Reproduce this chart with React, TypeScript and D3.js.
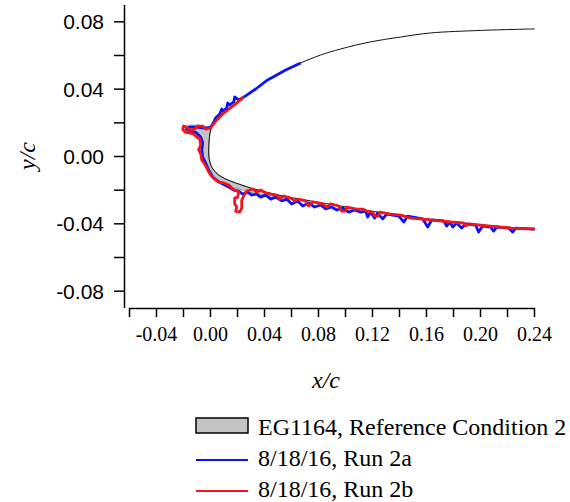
import { useEffect, useRef } from "react";
import * as d3 from "d3";

type Pt = [number, number];

// clean airfoil, nose -> trailing edge of the window
const airfoilUpper: Pt[] = [
  [-0.00096, 0.0036], [-0.0006, 0.0095], [0.0005, 0.0155], [0.0042, 0.0214],
  [0.0116, 0.0262], [0.019, 0.0309], [0.025, 0.0345], [0.0339, 0.0398],
  [0.0427, 0.0452], [0.0561, 0.0511], [0.0672, 0.0553], [0.082, 0.06],
  [0.0968, 0.0636], [0.119, 0.0678], [0.1413, 0.0707], [0.1635, 0.0731],
  [0.2005, 0.0746], [0.2405, 0.0755],
];
const airfoilLower: Pt[] = [
  [-0.00096, 0.0036], [-0.0007, -0.0012], [0.0005, -0.0053], [0.0027, -0.0083],
  [0.0064, -0.0113], [0.0116, -0.0137], [0.019, -0.016], [0.0301, -0.019],
  [0.0413, -0.0214], [0.0561, -0.0241], [0.0746, -0.0267], [0.0968, -0.0297],
  [0.119, -0.0327], [0.1413, -0.0354], [0.1635, -0.0377], [0.1857, -0.0398],
  [0.2153, -0.0419], [0.2405, -0.0434],
];

// EG1164 reference ice, outer edge (upper -> lower)
const iceOuter: Pt[] = [
  [0.0013, 0.0166], [-0.0032, 0.0172], [-0.0084, 0.0184], [-0.0143, 0.0184],
  [-0.0187, 0.0172], [-0.018, 0.0149], [-0.0128, 0.0137], [-0.0076, 0.0125],
  [-0.0054, 0.0095], [-0.0054, 0.0048], [-0.0061, 0.0], [-0.0039, -0.0042],
  [-0.001, -0.0089], [0.0027, -0.0131], [0.0072, -0.016], [0.0131, -0.0178],
  [0.0213, -0.0196], [0.0316, -0.022], [0.0435, -0.0238], [0.0561, -0.0244],
];

// 8/18/16 Run 2a
const run2a: Pt[] = [
  [0.0672, 0.0553], [0.0561, 0.0511], [0.0427, 0.0452], [0.0339, 0.0398],
  [0.0264, 0.0357], [0.0213, 0.0333], [0.0183, 0.0351], [0.0176, 0.0321],
  [0.0146, 0.0303], [0.0131, 0.0315], [0.0124, 0.0285], [0.0094, 0.0267],
  [0.0087, 0.0279], [0.0072, 0.025], [0.0042, 0.0226], [0.002, 0.019],
  [0.0005, 0.0172], [-0.0039, 0.0166], [-0.0099, 0.0172], [-0.015, 0.0172],
  [-0.0173, 0.016], [-0.0143, 0.0149], [-0.0099, 0.0137], [-0.0069, 0.0113],
  [-0.0054, 0.0077], [-0.0061, 0.0036], [-0.0054, -0.0006], [-0.0032, -0.0042],
  [-0.001, -0.0083], [0.002, -0.0125], [0.0057, -0.0149], [0.0094, -0.0166],
  [0.0139, -0.0184], [0.0176, -0.0202], [0.0213, -0.0208], [0.0242, -0.0226],
  [0.0279, -0.0214], [0.0309, -0.0232], [0.0346, -0.0226], [0.0375, -0.0244],
  [0.0413, -0.0232], [0.045, -0.0256], [0.0487, -0.0244], [0.0531, -0.0267],
  [0.0568, -0.0256], [0.0605, -0.0285], [0.065, -0.0267], [0.0687, -0.0297],
  [0.0731, -0.0279], [0.0775, -0.0303], [0.082, -0.0291], [0.0857, -0.0315],
  [0.0901, -0.0303], [0.0939, -0.0321], [0.0983, -0.0309], [0.1027, -0.0333],
  [0.1072, -0.0321], [0.1116, -0.0333], [0.1153, -0.0327], [0.1168, -0.0363],
  [0.119, -0.0333], [0.122, -0.0369], [0.1242, -0.0339], [0.1279, -0.0374],
  [0.1309, -0.0345], [0.1398, -0.0357], [0.1436, -0.0392], [0.1464, -0.0357],
  [0.1576, -0.0374], [0.1613, -0.0422], [0.1642, -0.038], [0.1731, -0.0386],
  [0.1753, -0.0416], [0.1776, -0.0392], [0.1798, -0.0422], [0.1827, -0.0398],
  [0.1864, -0.0428], [0.1894, -0.0404], [0.1968, -0.041], [0.199, -0.0452],
  [0.202, -0.0416], [0.2079, -0.0422], [0.2101, -0.0446], [0.2124, -0.0422],
  [0.2213, -0.0428], [0.2242, -0.0452], [0.2264, -0.0428], [0.2405, -0.0434],
];

// 8/18/16 Run 2b
const run2b: Pt[] = [
  [0.025, 0.0351], [0.019, 0.0309], [0.0139, 0.0279], [0.0094, 0.025],
  [0.005, 0.0214], [0.002, 0.0184], [0.0005, 0.0166], [-0.0032, 0.016],
  [-0.0054, 0.0178], [-0.0091, 0.0178], [-0.0113, 0.016], [-0.015, 0.0155],
  [-0.0173, 0.0172], [-0.0195, 0.0178], [-0.0202, 0.016], [-0.0187, 0.0143],
  [-0.0158, 0.0137], [-0.0121, 0.0131], [-0.0099, 0.0113], [-0.0076, 0.0101],
  [-0.0069, 0.0065], [-0.0084, 0.0036], [-0.0069, 0.0012], [-0.0061, -0.0024],
  [-0.0039, -0.0048], [-0.0017, -0.0083], [0.0005, -0.0113], [0.0035, -0.0137],
  [0.0064, -0.0155], [0.0101, -0.016], [0.0139, -0.0172], [0.0168, -0.0196],
  [0.0213, -0.0214], [0.0205, -0.0244], [0.0183, -0.025], [0.0183, -0.0285],
  [0.0198, -0.0303], [0.019, -0.0327], [0.022, -0.0333], [0.0235, -0.0309],
  [0.0235, -0.0262], [0.025, -0.0238], [0.0273, -0.0208], [0.0316, -0.0196],
  [0.0346, -0.0214], [0.0375, -0.0202], [0.0413, -0.022], [0.045, -0.0226],
  [0.0494, -0.0232], [0.0516, -0.0256], [0.0546, -0.0238], [0.0598, -0.025],
  [0.0627, -0.0267], [0.0657, -0.0256], [0.0709, -0.0267], [0.0731, -0.0297],
  [0.0761, -0.0273], [0.0835, -0.0285], [0.0864, -0.0303], [0.0894, -0.0285],
  [0.0953, -0.0297], [0.0975, -0.0327], [0.1005, -0.0327], [0.1012, -0.0303],
  [0.1086, -0.0315], [0.1131, -0.0315], [0.1161, -0.0327], [0.1205, -0.0333],
  [0.122, -0.0357], [0.125, -0.0357], [0.1257, -0.0333], [0.1338, -0.0345],
  [0.1413, -0.0351], [0.1487, -0.0369], [0.1635, -0.038], [0.1783, -0.0392],
  [0.1879, -0.0398], [0.1894, -0.0416], [0.1916, -0.0404], [0.2079, -0.0416],
  [0.2227, -0.0428], [0.2405, -0.0434],
];

const xTickValues = [-0.06, -0.04, -0.02, 0, 0.02, 0.04, 0.06, 0.08, 0.1, 0.12, 0.14, 0.16, 0.18, 0.2, 0.22, 0.24];
const xTickLabels = ["-0.04", "0.00", "0.04", "0.08", "0.12", "0.16", "0.20", "0.24"];
const yTickValues = [-0.08, -0.06, -0.04, -0.02, 0, 0.02, 0.04, 0.06, 0.08];
const yTickLabels = ["-0.08", "-0.04", "0.00", "0.04", "0.08"];

const legendLabels = ["EG1164, Reference Condition 2", "8/18/16, Run 2a", "8/18/16, Run 2b"];

const SERIF = "'Liberation Serif', 'Times New Roman', serif";
const SANS = "'Liberation Sans', Arial, sans-serif";

export default function App() {
  const ref = useRef<SVGSVGElement | null>(null);

  useEffect(() => {
    const width = 570;
    const height = 502;
    const svg = d3.select(ref.current);
    svg.selectAll("*").remove();
    svg.attr("width", width).attr("height", height);

    const xScale = d3.scaleLinear([-0.06, 0.24], [129, 534]);
    const yScale = d3.scaleLinear([-0.09, 0.09], [307.5, 4.5]);
    const fmt = (d: number) => (Math.abs(d) < 1e-9 ? 0 : d).toFixed(2);

    //y axis, detached to the left
    const yAxis = d3
      .axisLeft(yScale)
      .tickValues(yTickValues)
      .tickSize(10)
      .tickSizeOuter(0)
      .tickPadding(10)
      .tickFormat((d) => {
        const s = fmt(d as number);
        return yTickLabels.includes(s) ? s : "";
      });
    const gy = svg.append("g").attr("transform", "translate(124,0)").call(yAxis);
    gy.select(".domain").attr("stroke", "#000").attr("stroke-width", 1.5);
    gy.selectAll(".tick line").attr("stroke", "#000").attr("stroke-width", 1.5);
    gy.selectAll(".tick text")
      .attr("font-family", SANS)
      .attr("font-size", 21)
      .attr("fill", "#000")
      .attr("dy", "0.36em");

    //x axis
    const xAxis = d3
      .axisBottom(xScale)
      .tickValues(xTickValues)
      .tickSize(9)
      .tickSizeOuter(0)
      .tickPadding(10)
      .tickFormat((d) => {
        const s = fmt(d as number);
        return xTickLabels.includes(s) ? s : "";
      });
    const gx = svg.append("g").attr("transform", "translate(0,308)").call(xAxis);
    gx.select(".domain").attr("stroke", "#000").attr("stroke-width", 1.5);
    gx.selectAll(".tick line").attr("stroke", "#000").attr("stroke-width", 1.5);
    gx.selectAll(".tick text")
      .attr("font-family", SERIF)
      .attr("font-size", 20)
      .attr("fill", "#000");

    //axis titles
    svg
      .append("text")
      .attr("transform", "translate(35,156) rotate(-90)")
      .attr("text-anchor", "middle")
      .attr("font-family", SERIF)
      .attr("font-style", "italic")
      .attr("font-size", 24)
      .text("y/c");
    svg
      .append("text")
      .attr("x", 326)
      .attr("y", 388)
      .attr("text-anchor", "middle")
      .attr("font-family", SERIF)
      .attr("font-style", "italic")
      .attr("font-size", 24)
      .text("x/c");

    const line = d3
      .line<Pt>()
      .x((d) => xScale(d[0]))
      .y((d) => yScale(d[1]));
    const smooth = d3
      .line<Pt>()
      .x((d) => xScale(d[0]))
      .y((d) => yScale(d[1]))
      .curve(d3.curveCatmullRom.alpha(0.5));

    //reference ice shape, closed against the airfoil surface
    const xEnd = iceOuter[iceOuter.length - 1][0];
    const xStart = iceOuter[0][0];
    const icePoly = [
      ...iceOuter,
      ...airfoilLower.filter((d) => d[0] < xEnd).reverse(),
      ...airfoilUpper.filter((d) => d[0] < xStart),
    ];
    svg
      .append("path")
      .attr("d", line(icePoly) + "Z")
      .attr("fill", "#c4c4c4")
      .attr("stroke", "#888")
      .attr("stroke-width", 0.8);

    //clean airfoil
    svg
      .append("path")
      .attr("d", smooth([...airfoilUpper].reverse().concat(airfoilLower.slice(1))))
      .attr("fill", "none")
      .attr("stroke", "#111")
      .attr("stroke-width", 1);

    svg
      .append("path")
      .attr("d", line(run2a))
      .attr("fill", "none")
      .attr("stroke", "#0a14f0")
      .attr("stroke-width", 2.8)
      .attr("stroke-linejoin", "round");
    svg
      .append("path")
      .attr("d", line(run2b))
      .attr("fill", "none")
      .attr("stroke", "#f0141e")
      .attr("stroke-width", 2.8)
      .attr("stroke-linejoin", "round");

    //legend
    const legend = svg.append("g");
    legend
      .append("rect")
      .attr("x", 196)
      .attr("y", 418)
      .attr("width", 52)
      .attr("height", 15)
      .attr("fill", "#c4c4c4")
      .attr("stroke", "#000")
      .attr("stroke-width", 1.5);
    const colors = ["#0a14f0", "#f0141e"];
    [1, 2].forEach((i) => {
      legend
        .append("line")
        .attr("x1", 196)
        .attr("x2", 248)
        .attr("y1", 429 + i * 31)
        .attr("y2", 429 + i * 31)
        .attr("stroke", colors[i - 1])
        .attr("stroke-width", 2);
    });
    legendLabels.forEach((t, i) => {
      legend
        .append("text")
        .attr("x", 258)
        .attr("y", 435 + i * 31)
        .attr("font-family", SERIF)
        .attr("font-size", 24)
        .text(t);
    });

    return () => {
      d3.select(ref.current).selectAll("*").remove();
    };
  }, []);

  return <svg ref={ref} style={{ position: "absolute", left: 0, top: 0 }} />;
}
